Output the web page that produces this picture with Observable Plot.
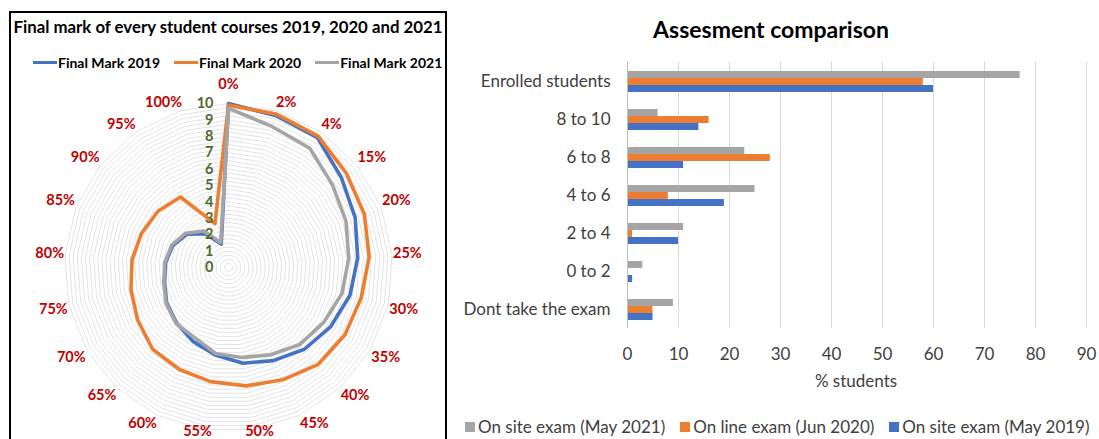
<!DOCTYPE html>
<html><head><meta charset="utf-8">
<script src="https://cdn.jsdelivr.net/npm/d3@7"></script>
<script src="https://cdn.jsdelivr.net/npm/@observablehq/plot@0.6"></script>
<style>
body{margin:0;width:1099px;height:439px;overflow:hidden;background:#fff;position:relative;font-family:Lato,"Open Sans",sans-serif;}
.abs{position:absolute;white-space:nowrap;}
.leg{display:flex;align-items:center;}
</style></head><body>
<div id="radar" class="abs" style="left:0;top:0"></div>
<div class="abs" style="left:9px;top:11px;width:438px;height:470px;border:2px solid #000;box-sizing:border-box"></div>
<div class="abs" style="left:9px;width:438px;top:16px;text-align:center;font-weight:700;font-size:16.8px;color:#000">Final mark of every student courses 2019, 2020 and 2021</div>
<div id="llegend" class="abs leg" style="left:33px;top:54px;font-weight:700;font-size:14px;color:#000"></div>
<div id="bars" class="abs" style="left:450px;top:40px"></div>
<div class="abs" style="left:771px;top:15px;transform:translateX(-50%);font-weight:700;font-size:23px;color:#000">Assesment comparison</div>
<div class="abs" style="left:856px;top:370px;transform:translateX(-50%);font-size:17px;color:#404040">% students</div>
<div id="rlegend" class="abs leg" style="left:465px;top:416px;font-size:17px;color:#404040"></div>
<script>
// ---------- Radar data ----------
const radarCategories = ["0%","2%","4%","15%","20%","25%","30%","35%","40%","45%","50%","55%","60%","65%","70%","75%","80%","85%","90%","95%","100%"];
const radarTicks = [0,1,2,3,4,5,6,7,8,9,10];
const mark2019 = [10.0, 9.7, 9.6, 8.8, 8.3, 7.9, 7.6, 7.2, 6.8, 6.3, 5.9, 5.4, 5.0, 4.64, 4.35, 4.0, 3.85, 3.65, 3.25, 2.5, 1.5];
const mark2020 = [9.9, 9.8, 9.7, 9.2, 8.9, 8.6, 8.3, 8.2, 8.05, 7.6, 7.3, 7.05, 6.9, 6.8, 6.4, 6.1, 5.9, 5.7, 5.5, 5.2, 2.8];
const mark2021 = [9.7, 9.0, 8.8, 8.1, 7.7, 7.35, 7.1, 6.7, 6.4, 5.9, 5.55, 5.3, 4.75, 4.68, 4.4, 4.05, 3.9, 3.72, 3.35, 2.7, 1.6];
const radarNames = ["Final Mark 2019","Final Mark 2020","Final Mark 2021"];
const radarColors = ["#4472C4","#ED7D31","#A5A5A5"];

// ---------- Bar data ----------
const barCategories = ["Enrolled students","8 to 10","6 to 8","4 to 6","2 to 4","0 to 2","Dont take the exam"];
const onsite2021 = [77, 6, 23, 25, 11, 3, 9];
const online2020 = [58, 16, 28, 8, 1, 0, 5];
const onsite2019 = [60, 14, 11, 19, 10, 1, 5];
const barNames = ["On site exam (May 2021)","On line exam (Jun 2020)","On site exam (May 2019)"];
const barColors = ["#A5A5A5","#ED7D31","#4472C4"];
const xTicks = [0,10,20,30,40,50,60,70,80,90];

// ---------- Radar chart ----------
{
  const W = 450, H = 439, cx = 228, cy = 267, k = 16.4, maxV = 10;
  const n = radarCategories.length;
  const ang = i => i * 2 * Math.PI / n;
  const pol = (v, i) => ({x: v * Math.sin(ang(i)), y: v * Math.cos(ang(i))});
  const clamp = t => Math.max(-1, Math.min(1, t));
  // rings
  const rings = [];
  for (let l = 0.25; l <= maxV + 1e-9; l += 0.25) {
    for (let i = 0; i <= n; i++) rings.push({level: l, ...pol(l, i % n)});
  }
  // series
  const seriesVals = [mark2019, mark2020, mark2021];
  const pts = [];
  seriesVals.forEach((vals, s) => {
    for (let i = 0; i <= n; i++) pts.push({series: radarNames[s], ...pol(vals[i % n], i % n)});
  });
  // category labels placed just outside the outer ring (Excel-like box anchoring)
  const labs = radarCategories.map((c, i) => {
    const w = (c.length - 1) * 8.3 + 12, h = 14;
    const s = Math.sin(ang(i)), co = Math.cos(ang(i));
    const rp = maxV * k + 1;
    let px = rp * s + (w / 2) * clamp(3 * s);
    let py = rp * co + (h / 2) * clamp(3 * co);
    if (i === 0) py += 11; // clear the value-axis labels
    py = Math.max(py, -(H - cy) + 8);
    return {text: c, x: px / k, y: py / k};
  });
  const radar = Plot.plot({
    width: W, height: H, margin: 0,
    style: {background: "transparent", overflow: "visible", fontFamily: "Lato"},
    x: {domain: [-cx / k, (W - cx) / k], axis: null},
    y: {domain: [-(H - cy) / k, cy / k], axis: null},
    color: {domain: radarNames, range: radarColors},
    marks: [
      Plot.line(rings, {x: "x", y: "y", z: "level", stroke: "#dcdcdc", strokeWidth: 0.8}),
      Plot.line(pts, {x: "x", y: "y", z: "series", stroke: "series", strokeWidth: 3.6, strokeLinejoin: "round"}),
      Plot.text(labs, {x: "x", y: "y", text: "text", fill: "#C00000", fontWeight: "bold", fontSize: 14.5}),
      Plot.text(radarTicks, {x: 0, y: d => d, text: d => String(d), dx: -15, textAnchor: "end", fill: "#4E6B2F", fontWeight: "bold", fontSize: 14.5})
    ]
  });
  document.getElementById("radar").appendChild(radar);
  const lg = document.getElementById("llegend");
  radarNames.forEach((nm, i) => {
    const it = document.createElement("div");
    it.style.cssText = "display:flex;align-items:center;margin-right:" + (i < 2 ? 14 : 0) + "px";
    it.innerHTML = `<span style="display:inline-block;width:24px;height:3px;background:${radarColors[i]};margin-right:1px"></span><span>${nm}</span>`;
    lg.appendChild(it);
  });
}

// ---------- Bar chart ----------
{
  const vals = [onsite2021, online2020, onsite2019];
  const rows = [];
  barCategories.forEach((c, i) => barNames.forEach((s, j) => rows.push({category: c, series: s, value: vals[j][i]})));
  const bars = Plot.plot({
    width: 649, height: 360,
    marginLeft: 177, marginRight: 13, marginTop: 20, marginBottom: 70,
    style: {fontFamily: "Lato", fontSize: "17px", color: "#404040", background: "transparent", overflow: "visible"},
    facet: {data: rows, y: "category"},
    fy: {domain: barCategories, padding: 0, axis: "left", label: null, tickSize: 0, tickPadding: 17},
    y: {domain: barNames, axis: null, paddingInner: 0, paddingOuter: 0.9},
    x: {domain: [0, 90], ticks: xTicks, tickSize: 0, tickPadding: 19, label: null},
    color: {domain: barNames, range: barColors},
    marks: [
      Plot.ruleX(xTicks.slice(1), {stroke: "#d9d9d9", strokeWidth: 1}),
      Plot.barX(rows, {x: "value", y: "series", fill: "series"}),
      Plot.ruleX([0], {stroke: "#bfbfbf", strokeWidth: 1})
    ]
  });
  document.getElementById("bars").appendChild(bars);
  const lg = document.getElementById("rlegend");
  barNames.forEach((nm, i) => {
    const it = document.createElement("div");
    it.style.cssText = "display:flex;align-items:center;margin-right:" + (i < 2 ? 15 : 0) + "px";
    it.innerHTML = `<span style="display:inline-block;width:10px;height:10px;background:${barColors[i]};margin-right:3px"></span><span>${nm}</span>`;
    lg.appendChild(it);
  });
}
</script>
</body></html>
